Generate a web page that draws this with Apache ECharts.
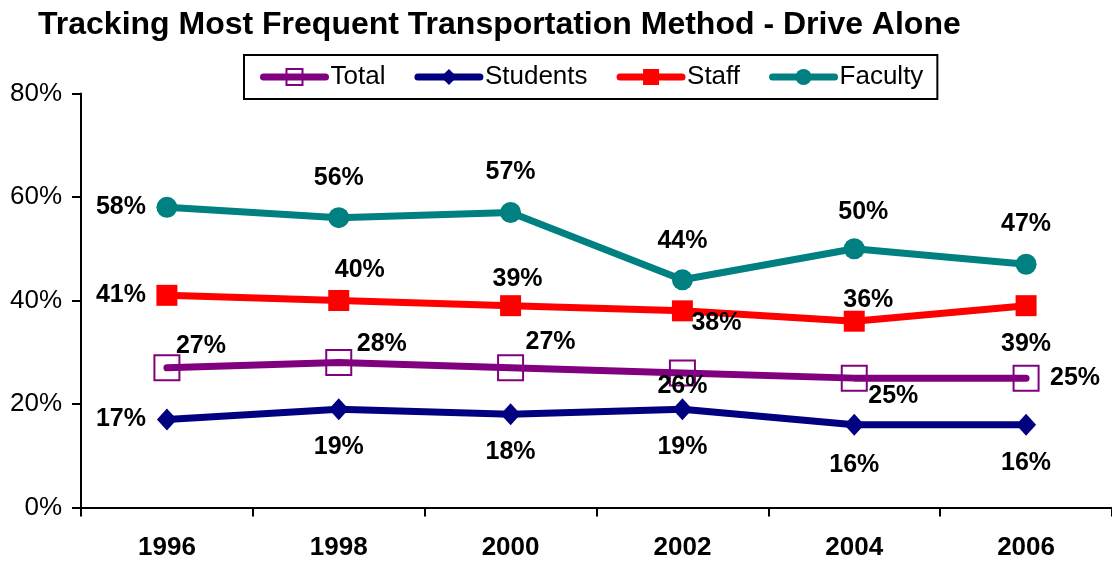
<!DOCTYPE html>
<html><head><meta charset="utf-8">
<script src="https://cdn.jsdelivr.net/npm/echarts@6/dist/echarts.min.js"></script>
<style>html,body{margin:0;padding:0;background:#fff}#c{width:1112px;height:563px}</style>
</head><body><div id="c"></div>
<script>
const years = ['1996','1998','2000','2002','2004','2006'];
const total = [27, 28, 27, 26, 25, 25];
const students = [17, 19, 18, 19, 16, 16];
const staff = [41, 40, 39, 38, 36, 39];
const faculty = [58, 56, 57, 44, 50, 47];

// label offsets from the point centre (style only): [dx, dy]
const totalLbl = [[34,-22],[43,-18],[40,-26],[0,13],[39,18],[49,0]];
const studentsLbl = [[-46,0],[0,38],[0,38],[0,38],[0,40],[0,38]];
const staffLbl = [[-46,0],[21,-30],[7,-27],[34,12],[14,-21],[0,38]];
const facultyLbl = [[-46,0],[0,-40],[0,-40],[0,-39],[9,-37],[0,-40]];

const FONT = '"Liberation Sans", Arial, sans-serif';
function mk(vals, lbls){
  return vals.map((v,i)=>({value:v,label:{position:'inside',offset:lbls[i]}}));
}
const lblStyle = {show:true, formatter:'{c}%', color:'#000', fontWeight:'bold', fontSize:25, fontFamily:FONT};

const chart = echarts.init(document.getElementById('c'), null, {renderer:'canvas'});
chart.setOption({
  animation:false,
  backgroundColor:'#fff',
  title:{text:'Tracking Most Frequent Transportation Method - Drive Alone', left:33, top:4,
    textStyle:{fontFamily:FONT, fontWeight:'bold', fontSize:32, color:'#000'}},
  legend:{left:244, top:55, borderColor:'#000', borderWidth:2, padding:[9,14,9,16],
    itemWidth:62, itemHeight:20, itemGap:29,
    lineStyle:{width:7, cap:'round'},
    textStyle:{fontFamily:FONT, fontSize:26, color:'#000'},
    data:['Total','Students','Staff','Faculty']},
  grid:{left:81, top:93.5, height:414, width:1036},
  xAxis:{type:'category', data:years, boundaryGap:true,
    axisLine:{lineStyle:{color:'#000', width:2}},
    axisTick:{show:true, length:9, lineStyle:{color:'#000', width:2}},
    axisLabel:{fontFamily:FONT, fontWeight:'bold', fontSize:26, color:'#000', margin:27}},
  yAxis:{type:'value', min:0, max:80, interval:20, splitLine:{show:false},
    axisLine:{show:true, lineStyle:{color:'#000', width:2}},
    axisTick:{show:true, length:9, lineStyle:{color:'#000', width:2}},
    axisLabel:{formatter:'{value}%', fontFamily:FONT, fontSize:26, color:'#000', margin:19}},
  series:[
    {name:'Total', type:'line', data:mk(total,totalLbl), symbol:'rect', symbolSize:25,
      lineStyle:{color:'#800080', width:7, cap:'round'}, itemStyle:{color:'rgba(0,0,0,0)', borderColor:'#800080', borderWidth:2},
      label:lblStyle, z:3},
    {name:'Students', type:'line', data:mk(students,studentsLbl), symbol:'diamond', symbolSize:[20,22],
      lineStyle:{color:'#000080', width:7}, itemStyle:{color:'#000080'}, label:lblStyle, z:2},
    {name:'Staff', type:'line', data:mk(staff,staffLbl), symbol:'rect', symbolSize:21,
      lineStyle:{color:'#ff0000', width:7}, itemStyle:{color:'#ff0000'}, label:lblStyle, z:4},
    {name:'Faculty', type:'line', data:mk(faculty,facultyLbl), symbol:'circle', symbolSize:21,
      lineStyle:{color:'#008080', width:7}, itemStyle:{color:'#008080'}, label:lblStyle, z:5}
  ]
});
</script></body></html>
